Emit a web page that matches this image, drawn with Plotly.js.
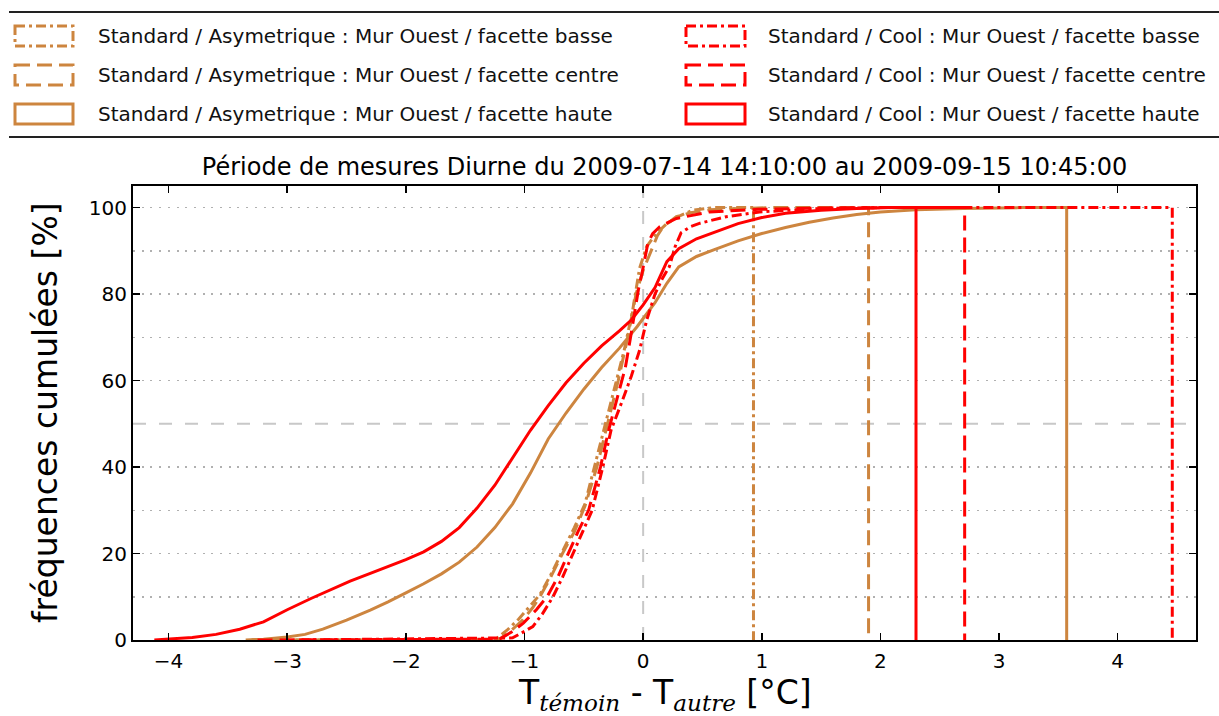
<!DOCTYPE html>
<html>
<head>
<meta charset="utf-8">
<script src="https://cdn.plot.ly/plotly-3.0.1.min.js"></script>
<style>html,body{margin:0;padding:0;background:#fff;}#chart{width:1219px;height:716px;}</style>
</head>
<body>
<div id="chart"></div>
<script>
// ---- Data ----
const seriesNames = [
  "Standard / Asymetrique : Mur Ouest / facette basse",
  "Standard / Asymetrique : Mur Ouest / facette centre",
  "Standard / Asymetrique : Mur Ouest / facette haute",
  "Standard / Cool : Mur Ouest / facette basse",
  "Standard / Cool : Mur Ouest / facette centre",
  "Standard / Cool : Mur Ouest / facette haute"
];

const asymBasseX = [-3.3, -1.25, -1.15, -1.05, -0.95, -0.87, -0.78, -0.68, -0.58, -0.49, -0.4, -0.32, -0.24, -0.16, -0.09, -0.03, 0.03, 0.11, 0.2, 0.3, 0.42, 0.6, 0.93, 0.93];
const asymBasseY = [0, 0, 2.2, 4.8, 8, 10.5, 15, 20.5, 26, 31.5, 41, 49.5, 58, 67, 76, 86, 91, 94, 96.3, 98, 99.4, 100, 100, 0];

const asymCentreX = [-3.3, -1.22, -1.12, -1.02, -0.93, -0.87, -0.78, -0.68, -0.58, -0.49, -0.39, -0.31, -0.21, -0.13, -0.06, 0.0, 0.06, 0.12, 0.17, 0.28, 0.4, 0.56, 0.8, 1.1, 1.9, 1.9];
const asymCentreY = [0, 0, 2, 4.5, 7.5, 10, 14.5, 20, 25, 31, 40, 48.6, 60, 70, 80, 85.5, 89.5, 93.5, 95.6, 97.9, 98.8, 99.5, 99.8, 100, 100, 0];

const asymHauteX = [-3.35, -3.2, -3.0, -2.85, -2.7, -2.5, -2.3, -2.15, -2.0, -1.85, -1.7, -1.55, -1.4, -1.25, -1.1, -0.95, -0.8, -0.65, -0.5, -0.35, -0.2, -0.05, 0.1, 0.2, 0.3, 0.45, 0.6, 0.8, 1.0, 1.2, 1.4, 1.6, 1.8, 2.0, 2.3, 2.7, 3.2, 3.57, 3.57];
const asymHauteY = [0, 0.2, 0.7, 1.3, 2.5, 4.6, 6.9, 8.8, 10.9, 13, 15.3, 18, 21.5, 26, 31.5, 38.6, 46.5, 52.5, 58, 63, 67.5, 72.5, 78, 82.5, 86.3, 88.7, 90.3, 92.3, 94, 95.4, 96.6, 97.6, 98.4, 99, 99.5, 99.8, 100, 100, 0];

const coolBasseX = [-2.9, -1.1, -1.0, -0.93, -0.85, -0.76, -0.68, -0.59, -0.51, -0.43, -0.34, -0.27, -0.18, -0.1, -0.03, 0.03, 0.1, 0.16, 0.22, 0.27, 0.32, 0.4, 0.48, 0.7, 0.98, 1.5, 2.0, 4.46, 4.46];
const coolBasseY = [0, 0.5, 2.0, 3.1, 6, 10, 14.5, 20, 25, 30, 40, 48.6, 55, 61, 67, 74, 80, 83.5, 86.3, 91, 94.2, 95.6, 96.4, 97.9, 99, 99.8, 100, 100, 0];

const coolCentreX = [-3.25, -1.21, -1.1, -1.01, -0.9, -0.81, -0.72, -0.63, -0.55, -0.46, -0.36, -0.29, -0.21, -0.15, -0.1, -0.04, -0.01, 0.04, 0.08, 0.14, 0.28, 0.56, 0.97, 1.5, 2.0, 2.71, 2.71];
const coolCentreY = [0, 0.2, 2.0, 3.9, 7, 10, 14.5, 20, 25, 30, 40, 48.6, 57, 63, 71, 81, 84.8, 91.8, 94, 95.6, 97.5, 99, 99.6, 99.9, 100, 100, 0];

const coolHauteX = [-4.12, -4.0, -3.8, -3.6, -3.4, -3.2, -3.0, -2.8, -2.6, -2.47, -2.3, -2.15, -2.0, -1.85, -1.7, -1.55, -1.4, -1.25, -1.1, -0.95, -0.8, -0.65, -0.5, -0.35, -0.2, -0.1, 0.0, 0.1, 0.2, 0.3, 0.45, 0.6, 0.8, 1.0, 1.2, 1.5, 1.8, 2.1, 2.3, 2.3];
const coolHauteY = [0, 0.2, 0.6, 1.3, 2.5, 4.2, 7, 9.6, 12, 13.6, 15.4, 17, 18.6, 20.4, 22.8, 26, 30.5, 35.8, 42, 48.5, 54.2, 59.5, 64, 68, 71.5, 74, 77.5, 81.5, 87.5, 90.5, 92.8, 94.3, 96.3, 97.7, 98.7, 99.4, 99.8, 100, 100, 0];

const xTickVals = [-4, -3, -2, -1, 0, 1, 2, 3, 4];
const yTickVals = [0, 20, 40, 60, 80, 100];
const yMinorVals = [10, 30, 50, 70, 90];
const medianLevel = 50;
const zeroDiff = 0;

const titleText = "Période de mesures Diurne du 2009-07-14 14:10:00 au 2009-09-15 10:45:00";
const yTitleText = "fréquences cumulées [%]";
const xTitleText = "T<sub><span style=\"font-family:'DejaVu Serif';font-style:italic\">témoin</span></sub> - T<sub><span style=\"font-family:'DejaVu Serif';font-style:italic\">autre</span></sub> [°C]";

// ---- Styles ----
const TAN = '#CD853F', RED = '#FF0000';
const DASHDOT = '10px,4px,3px,4px';
const DASH = '15px,7px';
const FONT = 'DejaVu Sans';
const LW = 3;

const seriesData = [
  {x: asymBasseX, y: asymBasseY, color: TAN, dash: DASHDOT},
  {x: asymCentreX, y: asymCentreY, color: TAN, dash: DASH},
  {x: asymHauteX, y: asymHauteY, color: TAN, dash: 'solid'},
  {x: coolBasseX, y: coolBasseY, color: RED, dash: DASHDOT},
  {x: coolCentreX, y: coolCentreY, color: RED, dash: DASH},
  {x: coolHauteX, y: coolHauteY, color: RED, dash: 'solid'}
];

const traces = seriesData.map((s, i) => ({
  type: 'scatter', mode: 'lines', name: seriesNames[i],
  x: s.x, y: s.y, showlegend: false, hoverinfo: 'skip',
  line: {color: s.color, width: LW, dash: s.dash}
}));

// plot area in pixels
const L = 133, R = 1196, T = 186, B = 640;
const px2x = p => (p - L) / (R - L);
const py2y = p => (B - p) / (B - T);

const shapes = [
  {type: 'line', xref: 'paper', yref: 'y', x0: 0, x1: 1, y0: medianLevel, y1: medianLevel,
   line: {color: '#c8c8c8', width: 2, dash: '13px,13px'}, layer: 'below'},
  {type: 'line', xref: 'x', yref: 'paper', x0: zeroDiff, x1: zeroDiff, y0: 0, y1: 1,
   line: {color: '#c8c8c8', width: 2, dash: '13px,13px'}, layer: 'below'},
  // legend frame lines
  {type: 'line', xref: 'paper', yref: 'paper', x0: px2x(9), x1: px2x(1219), y0: py2y(12), y1: py2y(12),
   line: {color: '#222', width: 2}},
  {type: 'line', xref: 'paper', yref: 'paper', x0: px2x(9), x1: px2x(1219), y0: py2y(137), y1: py2y(137),
   line: {color: '#222', width: 2}}
];

const annotations = [];
const rowCenters = [36, 75, 114];
const cols = [{rx0: 15, rx1: 73, tx: 96}, {rx0: 686, rx1: 745, tx: 766}];
seriesData.forEach((s, i) => {
  const col = cols[Math.floor(i / 3)];
  const cy = rowCenters[i % 3];
  shapes.push({type: 'rect', xref: 'paper', yref: 'paper',
    x0: px2x(col.rx0), x1: px2x(col.rx1), y0: py2y(cy - 10), y1: py2y(cy + 10),
    line: {color: s.color, width: LW, dash: s.dash}, fillcolor: 'rgba(0,0,0,0)'});
  annotations.push({xref: 'paper', yref: 'paper', x: px2x(col.tx), y: py2y(cy),
    xanchor: 'left', yanchor: 'middle', showarrow: false, text: seriesNames[i],
    font: {family: FONT, size: 20, color: '#111'}});
});

annotations.push({xref: 'paper', yref: 'paper', x: 0.5, y: py2y(694), xanchor: 'center', yanchor: 'middle',
  showarrow: false, text: xTitleText, font: {family: FONT, size: 33, color: '#000'}});
annotations.push({xref: 'paper', yref: 'paper', x: px2x(45), y: 0.5, xanchor: 'center', yanchor: 'middle',
  showarrow: false, textangle: -90, text: yTitleText, font: {family: FONT, size: 33, color: '#000'}});

const axisCommon = {
  showline: true, linecolor: '#000', linewidth: 2, mirror: 'ticks',
  ticks: 'inside', ticklen: 7, tickwidth: 1.5, tickcolor: '#000',
  zeroline: false, tickfont: {family: FONT, size: 20, color: '#000'}
};

const layout = {
  width: 1219, height: 716,
  margin: {l: L, r: 1219 - R, t: T, b: 716 - B, pad: 0},
  paper_bgcolor: '#fff', plot_bgcolor: '#fff',
  showlegend: false,
  title: {text: titleText, x: 0.5, xref: 'paper', y: 1 - 167 / 716, yref: 'container', yanchor: 'middle',
    font: {family: FONT, size: 24, color: '#000'}},
  xaxis: Object.assign({}, axisCommon, {
    range: [-4.3, 4.66], tickmode: 'array', tickvals: xTickVals,
    ticktext: xTickVals.map(v => v < 0 ? '\u2212' + Math.abs(v) : String(v)),
    showgrid: false, ticklabelstandoff: 2
  }),
  yaxis: Object.assign({}, axisCommon, {
    range: [0, 105], tickmode: 'array', tickvals: yTickVals,
    showgrid: true, gridcolor: '#b0b0b0', gridwidth: 1.5, griddash: '2px,6.7px',
    ticklabelstandoff: 0,
    minor: {tickmode: 'array', tickvals: yMinorVals.filter(v => v !== medianLevel), ticks: '',
      showgrid: true, gridcolor: '#b0b0b0', gridwidth: 1.5, griddash: '2px,6.7px'}
  }),
  shapes: shapes,
  annotations: annotations
};

Plotly.newPlot('chart', traces, layout, {displayModeBar: false, staticPlot: true});
</script>
</body>
</html>
